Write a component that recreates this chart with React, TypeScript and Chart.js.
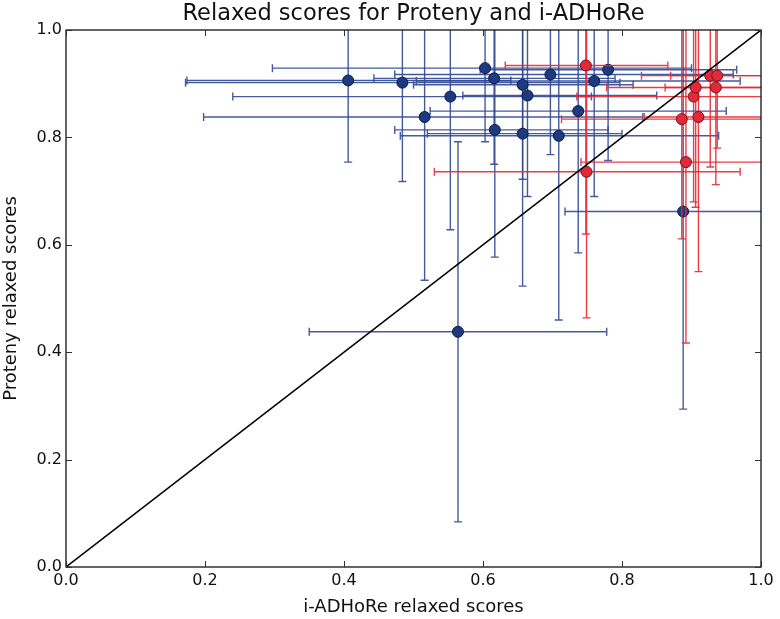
import React, { useEffect, useRef } from "react";
import { Chart, registerables } from "chart.js";

Chart.register(...registerables);

const TITLE = "Relaxed scores for Proteny and i-ADHoRe";
const X_LABEL = "i-ADHoRe relaxed scores";
const Y_LABEL = "Proteny relaxed scores";
const TICK_STEP = 0.2;

// Blue series
const blueX = [0.406, 0.484, 0.516, 0.553, 0.603, 0.616, 0.617, 0.657, 0.657, 0.664, 0.697, 0.709, 0.737, 0.760, 0.780, 0.564, 0.888];
const blueY = [0.906, 0.902, 0.838, 0.876, 0.929, 0.910, 0.814, 0.898, 0.807, 0.878, 0.917, 0.803, 0.849, 0.905, 0.926, 0.438, 0.662];
const blueXLow = [0.174, 0.172, 0.198, 0.240, 0.297, 0.443, 0.473, 0.500, 0.520, 0.571, 0.473, 0.481, 0.524, 0.504, 0.596, 0.350, 0.718];
const blueXHigh = [0.640, 0.797, 0.830, 0.756, 0.900, 0.790, 0.780, 0.816, 0.800, 0.850, 0.960, 0.939, 0.950, 0.970, 0.965, 0.778, 1.080];
const blueYLow = [0.754, 0.718, 0.534, 0.628, 0.792, 0.750, 0.577, 0.722, 0.523, 0.690, 0.768, 0.460, 0.585, 0.690, 0.757, 0.084, 0.294];
const blueYHigh = [1.06, 1.09, 1.14, 1.12, 1.07, 1.07, 1.05, 1.08, 1.09, 1.07, 1.06, 1.15, 1.11, 1.12, 1.09, 0.792, 1.03];

// Red series
const redX = [0.748, 0.749, 0.886, 0.892, 0.903, 0.906, 0.910, 0.927, 0.935, 0.937];
const redY = [0.934, 0.736, 0.834, 0.754, 0.876, 0.893, 0.838, 0.915, 0.893, 0.915];
const redXLow = [0.632, 0.530, 0.713, 0.741, 0.735, 0.862, 0.832, 0.828, 0.778, 0.870];
const redXHigh = [0.866, 0.970, 1.08, 1.10, 1.06, 1.09, 1.12, 1.07, 1.05, 1.10];
const redYLow = [0.620, 0.464, 0.611, 0.417, 0.680, 0.670, 0.550, 0.745, 0.712, 0.780];
const redYHigh = [1.05, 1.08, 1.12, 1.09, 1.07, 1.10, 1.13, 1.06, 1.08, 1.05];

// Diagonal reference line
const diagX = [0, 1];
const diagY = [0, 1];

const FONT = "'DejaVu Sans', sans-serif";

const toPoints = (xs: number[], ys: number[]) => xs.map((x, i) => ({ x, y: ys[i] }));

const errorBarPlugin = {
  id: "errorBars",
  beforeDatasetDraw(chart: any, args: any) {
    const ds = chart.data.datasets[args.index];
    const err = ds.errors;
    if (!err) return;
    const { ctx, chartArea } = chart;
    const xs = chart.scales.x;
    const ys = chart.scales.y;
    const cap = 4;
    ctx.save();
    ctx.beginPath();
    ctx.rect(chartArea.left, chartArea.top, chartArea.right - chartArea.left, chartArea.bottom - chartArea.top);
    ctx.clip();
    ctx.strokeStyle = ds.errorColor;
    ctx.lineWidth = 1.4;
    ds.data.forEach((p: any, i: number) => {
      const px = xs.getPixelForValue(p.x);
      const py = ys.getPixelForValue(p.y);
      const xl = xs.getPixelForValue(err.xLow[i]);
      const xh = xs.getPixelForValue(err.xHigh[i]);
      const yl = ys.getPixelForValue(err.yLow[i]);
      const yh = ys.getPixelForValue(err.yHigh[i]);
      ctx.beginPath();
      ctx.moveTo(xl, py);
      ctx.lineTo(xh, py);
      ctx.moveTo(xl, py - cap);
      ctx.lineTo(xl, py + cap);
      ctx.moveTo(xh, py - cap);
      ctx.lineTo(xh, py + cap);
      ctx.moveTo(px, yl);
      ctx.lineTo(px, yh);
      ctx.moveTo(px - cap, yl);
      ctx.lineTo(px + cap, yl);
      ctx.moveTo(px - cap, yh);
      ctx.lineTo(px + cap, yh);
      ctx.stroke();
    });
    ctx.restore();
  },
};

const framePlugin = {
  id: "frame",
  afterDraw(chart: any) {
    const { ctx, chartArea } = chart;
    const xs = chart.scales.x;
    const ys = chart.scales.y;
    const { left, right, top, bottom } = chartArea;
    ctx.save();
    ctx.strokeStyle = "#111";
    ctx.lineWidth = 1.3;
    ctx.strokeRect(left, top, right - left, bottom - top);
    ctx.lineWidth = 1;
    ctx.strokeStyle = "#333";
    const len = 6;
    ctx.beginPath();
    xs.ticks.forEach((t: any) => {
      const px = Math.round(xs.getPixelForValue(t.value)) + 0.5;
      ctx.moveTo(px, bottom);
      ctx.lineTo(px, bottom - len);
      ctx.moveTo(px, top);
      ctx.lineTo(px, top + len);
    });
    ys.ticks.forEach((t: any) => {
      const py = Math.round(ys.getPixelForValue(t.value)) + 0.5;
      ctx.moveTo(left, py);
      ctx.lineTo(left + len, py);
      ctx.moveTo(right, py);
      ctx.lineTo(right - len, py);
    });
    ctx.stroke();
    // Title centred over the plot area
    ctx.fillStyle = "#111";
    ctx.font = `22.5px ${FONT}`;
    ctx.textAlign = "center";
    ctx.textBaseline = "middle";
    ctx.fillText(TITLE, (left + right) / 2, 14);
    ctx.restore();
  },
};

export default function App() {
  const canvasRef = useRef<HTMLCanvasElement | null>(null);

  useEffect(() => {
    document.body.style.margin = "0";
    const canvas = canvasRef.current;
    if (!canvas) return;
    const chart = new Chart(canvas, {
      type: "scatter",
      data: {
        datasets: [
          {
            type: "line",
            label: "diagonal",
            data: toPoints(diagX, diagY),
            borderColor: "#000",
            borderWidth: 1.5,
            pointRadius: 0,
            showLine: true,
            fill: false,
          } as any,
          {
            label: "red",
            data: toPoints(redX, redY),
            backgroundColor: "#e3283a",
            borderColor: "#7a1018",
            borderWidth: 1,
            pointRadius: 5.5,
            errorColor: "rgba(232, 40, 52, 0.9)",
            errors: { xLow: redXLow, xHigh: redXHigh, yLow: redYLow, yHigh: redYHigh },
          } as any,
          {
            label: "blue",
            data: toPoints(blueX, blueY),
            backgroundColor: "#1d3a7e",
            borderColor: "#0c1a45",
            borderWidth: 1,
            pointRadius: 5.5,
            errorColor: "rgba(48, 72, 148, 0.9)",
            errors: { xLow: blueXLow, xHigh: blueXHigh, yLow: blueYLow, yHigh: blueYHigh },
          } as any,
        ],
      },
      options: {
        animation: false,
        responsive: false,
        devicePixelRatio: 1,
        layout: { padding: { left: 0, right: 19, top: 30, bottom: 0 } },
        plugins: {
          legend: { display: false },
          tooltip: { enabled: false },
          title: { display: false },
        },
        scales: {
          x: {
            type: "linear",
            min: 0,
            max: 1,
            grid: { display: false, drawTicks: false },
            border: { display: false },
            ticks: {
              stepSize: TICK_STEP,
              color: "#111",
              padding: 4,
              font: { family: FONT, size: 16 },
              callback: (v: any) => Number(v).toFixed(1),
            },
            title: {
              display: true,
              text: X_LABEL,
              color: "#111",
              font: { family: FONT, size: 18 },
              padding: { top: 1, bottom: 1 },
            },
            afterFit: (scale: any) => {
              scale.height = 52;
            },
          },
          y: {
            type: "linear",
            min: 0,
            max: 1,
            grid: { display: false, drawTicks: false },
            border: { display: false },
            ticks: {
              stepSize: TICK_STEP,
              color: "#111",
              padding: 4,
              font: { family: FONT, size: 16 },
              callback: (v: any) => Number(v).toFixed(1),
            },
            title: {
              display: true,
              text: Y_LABEL,
              color: "#111",
              font: { family: FONT, size: 18 },
              padding: { top: 1, bottom: 1 },
            },
            afterFit: (scale: any) => {
              scale.width = 66;
            },
          },
        },
      },
      plugins: [errorBarPlugin, framePlugin],
    });
    return () => chart.destroy();
  }, []);

  return (
    <div style={{ width: 780, height: 619, background: "#fff" }}>
      <canvas ref={canvasRef} width={780} height={619} style={{ display: "block" }} />
    </div>
  );
}
